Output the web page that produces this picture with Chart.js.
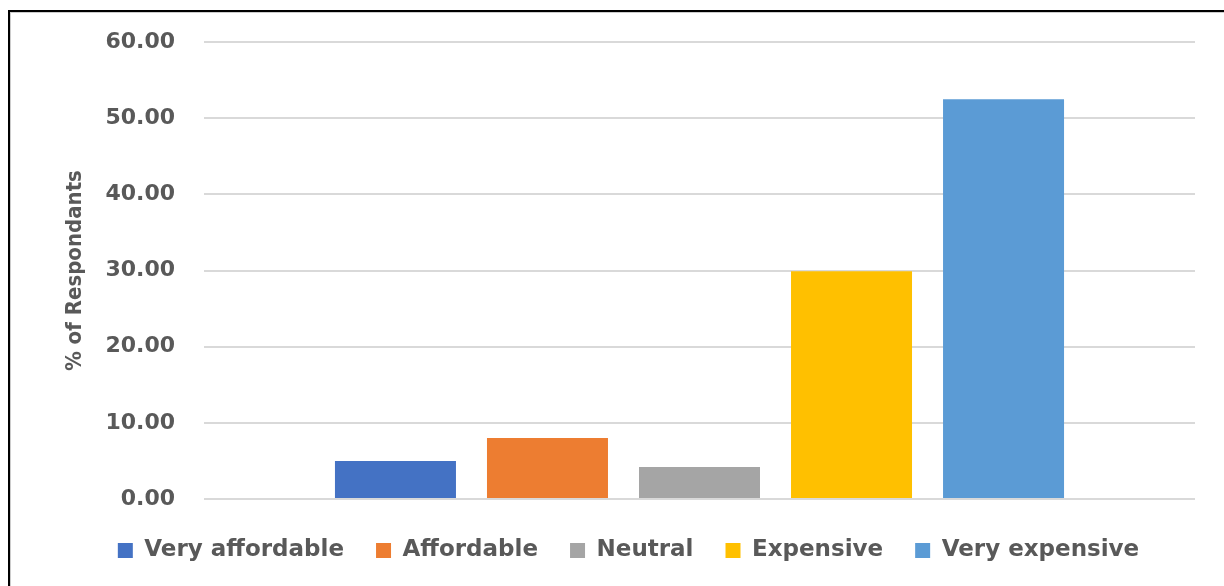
<!DOCTYPE html>
<html>
<head>
<meta charset="utf-8">
<script src="https://cdn.jsdelivr.net/npm/chart.js@4"></script>
<style>
  html, body { margin: 0; padding: 0; background: #fff; }
  #wrap { position: relative; width: 1224px; height: 586px; }
  #frame {
    position: absolute; left: 8px; top: 10px; width: 1300px; height: 700px;
    border-top: 2px solid #000; border-left: 2px solid #000;
    box-shadow: inset 1px 1px 0 #ccc;
  }
  canvas { position: absolute; left: 0; top: 0; }
</style>
</head>
<body>
<div id="wrap">
  <div id="frame"></div>
  <canvas id="myChart" width="1224" height="586"></canvas>
</div>
<script>
const seriesNames = ['Very affordable', 'Affordable', 'Neutral', 'Expensive', 'Very expensive'];
const seriesValues = [5.0, 8.0, 4.2, 29.9, 52.5];
const seriesColors = ['#4472c4', '#ed7d31', '#a5a5a5', '#ffc000', '#5b9bd5'];
const yTicks = [0, 10, 20, 30, 40, 50, 60];

const textColor = '#595959';

const renderChart = () => {
    const ctx = document.getElementById('myChart').getContext('2d');

    new Chart(ctx, {
        type: 'bar',
        data: {
            labels: [''],
            datasets: seriesNames.map((name, i) => ({
                label: name,
                data: [seriesValues[i]],
                backgroundColor: seriesColors[i],
                borderWidth: 0,
                categoryPercentage: 0.767,
                barPercentage: 0.796
            }))
        },
        options: {
            responsive: false,
            animation: false,
            layout: {
                // left padding keeps the legend row centred like the plot below it
                padding: { top: 32, right: 29, left: 62, bottom: 14 }
            },
            plugins: {
                tooltip: { enabled: false },
                legend: {
                    position: 'bottom',
                    labels: {
                        color: textColor,
                        font: { family: 'DejaVu Sans', size: 23, weight: 'bold' },
                        boxWidth: 15,
                        boxHeight: 15,
                        padding: 32
                    }
                }
            },
            scales: {
                x: {
                    grid: { display: false },
                    border: { display: false },
                    ticks: { display: false }
                },
                y: {
                    min: 0,
                    max: 60,
                    afterBuildTicks: (scale) => {
                        scale.ticks = yTicks.map((v) => ({ value: v }));
                    },
                    afterFit: (scale) => {
                        scale.width = 142;
                    },
                    grid: { color: '#d9d9d9', lineWidth: 2, drawTicks: false },
                    border: { display: false },
                    ticks: {
                        color: textColor,
                        padding: 29,
                        font: { family: 'DejaVu Sans', size: 22, weight: 'bold' },
                        callback: (v) => v.toFixed(2)
                    },
                    title: {
                        display: true,
                        text: '% of Respondants',
                        color: textColor,
                        font: { family: "'DejaVu Sans Condensed', Roboto, sans-serif", size: 22, weight: 'bold' },
                        padding: { top: 0, bottom: 10 }
                    }
                }
            }
        }
    });
};

window.addEventListener('load', renderChart);
</script>
</body>
</html>
